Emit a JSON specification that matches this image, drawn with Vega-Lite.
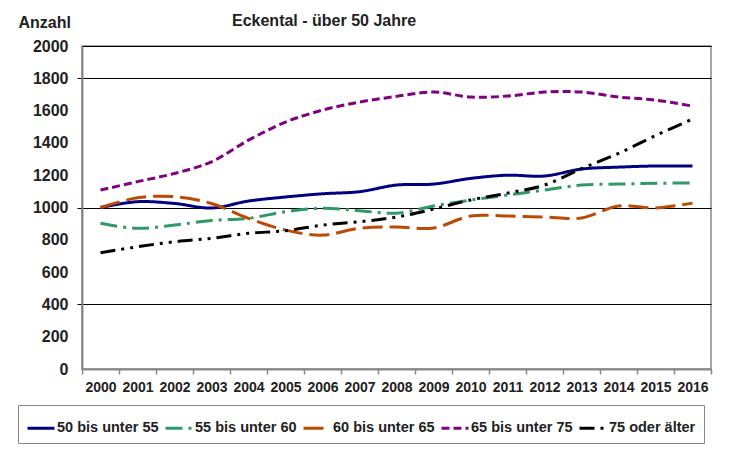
{
  "$schema": "https://vega.github.io/schema/vega-lite/v6.json",
  "autosize": "none",
  "width": 629,
  "height": 323,
  "padding": {"left": 82, "top": 46, "right": 21, "bottom": 81},
  "background": "white",
  "title": {
    "text": "Eckental - über 50 Jahre",
    "anchor": "start",
    "frame": "group",
    "dx": 150,
    "offset": -28,
    "baseline": "alphabetic",
    "font": "Liberation Sans",
    "fontSize": 16,
    "fontWeight": "bold",
    "color": "#222"
  },
  "data": {
    "values": [
      {"year": "2000", "group": "50 bis unter 55", "value": 1000},
      {"year": "2001", "group": "50 bis unter 55", "value": 1036},
      {"year": "2002", "group": "50 bis unter 55", "value": 1025},
      {"year": "2003", "group": "50 bis unter 55", "value": 997},
      {"year": "2004", "group": "50 bis unter 55", "value": 1040},
      {"year": "2005", "group": "50 bis unter 55", "value": 1065},
      {"year": "2006", "group": "50 bis unter 55", "value": 1085},
      {"year": "2007", "group": "50 bis unter 55", "value": 1098},
      {"year": "2008", "group": "50 bis unter 55", "value": 1139},
      {"year": "2009", "group": "50 bis unter 55", "value": 1145},
      {"year": "2010", "group": "50 bis unter 55", "value": 1180},
      {"year": "2011", "group": "50 bis unter 55", "value": 1200},
      {"year": "2012", "group": "50 bis unter 55", "value": 1195},
      {"year": "2013", "group": "50 bis unter 55", "value": 1238},
      {"year": "2014", "group": "50 bis unter 55", "value": 1250},
      {"year": "2015", "group": "50 bis unter 55", "value": 1257},
      {"year": "2016", "group": "50 bis unter 55", "value": 1257},
      {"year": "2000", "group": "55 bis unter 60", "value": 902},
      {"year": "2001", "group": "55 bis unter 60", "value": 871},
      {"year": "2002", "group": "55 bis unter 60", "value": 891},
      {"year": "2003", "group": "55 bis unter 60", "value": 920},
      {"year": "2004", "group": "55 bis unter 60", "value": 933},
      {"year": "2005", "group": "55 bis unter 60", "value": 974},
      {"year": "2006", "group": "55 bis unter 60", "value": 995},
      {"year": "2007", "group": "55 bis unter 60", "value": 980},
      {"year": "2008", "group": "55 bis unter 60", "value": 965},
      {"year": "2009", "group": "55 bis unter 60", "value": 1009},
      {"year": "2010", "group": "55 bis unter 60", "value": 1046},
      {"year": "2011", "group": "55 bis unter 60", "value": 1077},
      {"year": "2012", "group": "55 bis unter 60", "value": 1108},
      {"year": "2013", "group": "55 bis unter 60", "value": 1139},
      {"year": "2014", "group": "55 bis unter 60", "value": 1145},
      {"year": "2015", "group": "55 bis unter 60", "value": 1150},
      {"year": "2016", "group": "55 bis unter 60", "value": 1152},
      {"year": "2000", "group": "60 bis unter 65", "value": 1000},
      {"year": "2001", "group": "60 bis unter 65", "value": 1060},
      {"year": "2002", "group": "60 bis unter 65", "value": 1067},
      {"year": "2003", "group": "60 bis unter 65", "value": 1025},
      {"year": "2004", "group": "60 bis unter 65", "value": 933},
      {"year": "2005", "group": "60 bis unter 65", "value": 860},
      {"year": "2006", "group": "60 bis unter 65", "value": 829},
      {"year": "2007", "group": "60 bis unter 65", "value": 871},
      {"year": "2008", "group": "60 bis unter 65", "value": 879},
      {"year": "2009", "group": "60 bis unter 65", "value": 873},
      {"year": "2010", "group": "60 bis unter 65", "value": 947},
      {"year": "2011", "group": "60 bis unter 65", "value": 947},
      {"year": "2012", "group": "60 bis unter 65", "value": 941},
      {"year": "2013", "group": "60 bis unter 65", "value": 935},
      {"year": "2014", "group": "60 bis unter 65", "value": 1009},
      {"year": "2015", "group": "60 bis unter 65", "value": 997},
      {"year": "2016", "group": "60 bis unter 65", "value": 1027},
      {"year": "2000", "group": "65 bis unter 75", "value": 1108},
      {"year": "2001", "group": "65 bis unter 75", "value": 1160},
      {"year": "2002", "group": "65 bis unter 75", "value": 1211},
      {"year": "2003", "group": "65 bis unter 75", "value": 1283},
      {"year": "2004", "group": "65 bis unter 75", "value": 1417},
      {"year": "2005", "group": "65 bis unter 75", "value": 1529},
      {"year": "2006", "group": "65 bis unter 75", "value": 1603},
      {"year": "2007", "group": "65 bis unter 75", "value": 1653},
      {"year": "2008", "group": "65 bis unter 75", "value": 1688},
      {"year": "2009", "group": "65 bis unter 75", "value": 1715},
      {"year": "2010", "group": "65 bis unter 75", "value": 1684},
      {"year": "2011", "group": "65 bis unter 75", "value": 1690},
      {"year": "2012", "group": "65 bis unter 75", "value": 1715},
      {"year": "2013", "group": "65 bis unter 75", "value": 1715},
      {"year": "2014", "group": "65 bis unter 75", "value": 1684},
      {"year": "2015", "group": "65 bis unter 75", "value": 1665},
      {"year": "2016", "group": "65 bis unter 75", "value": 1628},
      {"year": "2000", "group": "75 oder älter", "value": 720},
      {"year": "2001", "group": "75 oder älter", "value": 757},
      {"year": "2002", "group": "75 oder älter", "value": 788},
      {"year": "2003", "group": "75 oder älter", "value": 809},
      {"year": "2004", "group": "75 oder älter", "value": 840},
      {"year": "2005", "group": "75 oder älter", "value": 856},
      {"year": "2006", "group": "75 oder älter", "value": 891},
      {"year": "2007", "group": "75 oder älter", "value": 912},
      {"year": "2008", "group": "75 oder älter", "value": 941},
      {"year": "2009", "group": "75 oder älter", "value": 990},
      {"year": "2010", "group": "75 oder älter", "value": 1046},
      {"year": "2011", "group": "75 oder älter", "value": 1089},
      {"year": "2012", "group": "75 oder älter", "value": 1139},
      {"year": "2013", "group": "75 oder älter", "value": 1240},
      {"year": "2014", "group": "75 oder älter", "value": 1335},
      {"year": "2015", "group": "75 oder älter", "value": 1445},
      {"year": "2016", "group": "75 oder älter", "value": 1548}
    ]
  },
  "mark": {"type": "line", "interpolate": "catmull-rom", "strokeWidth": 3, "strokeCap": "butt"},
  "encoding": {
    "x": {
      "field": "year",
      "type": "ordinal",
      "bandPosition": 0.5,
      "scale": {"type": "band", "paddingInner": 0, "paddingOuter": 0},
      "axis": {
        "title": null,
        "labelAngle": 0,
        "tickBand": "extent",
        "tickSize": 5,
        "labelPadding": 6,
        "labelFontSize": 14,
        "domainColor": "#888",
        "domainWidth": 2,
        "tickColor": "#888",
        "tickWidth": 1.5
      }
    },
    "y": {
      "field": "value",
      "type": "quantitative",
      "scale": {"domain": [0, 2000], "nice": false, "zero": true},
      "axis": {
        "title": "Anzahl",
        "titleAngle": 0,
        "titleX": -64,
        "titleY": -19,
        "titleAlign": "left",
        "titleBaseline": "alphabetic",
        "titleFontSize": 16,
        "titleFontWeight": "bold",
        "titleColor": "#222",
        "values": [0, 200, 400, 600, 800, 1000, 1200, 1400, 1600, 1800, 2000],
        "format": "d",
        "labelFontSize": 16,
        "labelPadding": 9,
        "tickSize": 5,
        "tickColor": {"condition": {"test": "datum.value == 400 || datum.value == 1000 || datum.value == 1800", "value": "#000"}, "value": "transparent"},
        "grid": true,
        "gridColor": {"condition": {"test": "datum.value == 400 || datum.value == 1000 || datum.value == 1800 || datum.value == 2000", "value": "#000"}, "value": "transparent"},
        "gridWidth": 1,
        "domainColor": "#888",
        "domainWidth": 2
      }
    },
    "color": {
      "field": "group",
      "type": "nominal",
      "scale": {
        "domain": ["50 bis unter 55", "55 bis unter 60", "60 bis unter 65", "65 bis unter 75", "75 oder älter"],
        "range": ["#000080", "#2f9a68", "#bb4a06", "#800080", "#000000"]
      },
      "legend": {
        "title": null,
        "orient": "none",
        "legendX": -64,
        "legendY": 359,
        "direction": "horizontal",
        "columns": 5,
        "columnPadding": 0,
        "symbolType": "stroke",
        "symbolSize": 729,
        "symbolStrokeWidth": 3,
        "labelOffset": 1,
        "labelFontSize": 14.5,
        "labelFontWeight": "bold",
        "labelColor": "#222",
        "strokeColor": "#888",
        "padding": 8
      }
    },
    "strokeDash": {
      "field": "group",
      "type": "nominal",
      "scale": {
        "domain": ["50 bis unter 55", "55 bis unter 60", "60 bis unter 65", "65 bis unter 75", "75 oder älter"],
        "range": [[1, 0], [17, 6, 3, 6], [20, 7], [8, 4], [15, 6, 3, 6, 3, 6]]
      },
      "legend": null
    }
  },
  "config": {
    "font": "Liberation Sans",
    "view": {"stroke": "#888", "strokeWidth": 1.5},
    "axis": {
      "labelFont": "Liberation Sans",
      "labelFontWeight": "bold",
      "labelColor": "#222"
    }
  }
}
